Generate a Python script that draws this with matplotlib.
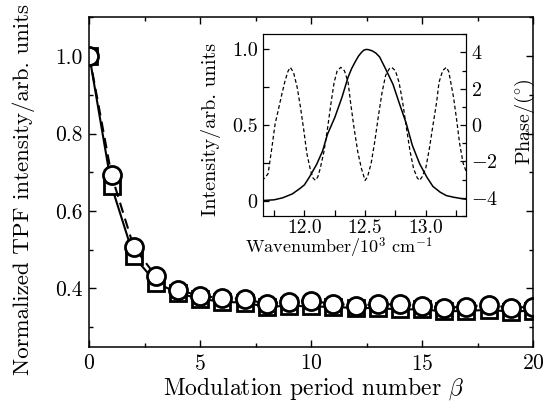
import numpy as np
import matplotlib
matplotlib.use('Agg')
import matplotlib.pyplot as plt
from matplotlib.ticker import MultipleLocator

plt.rcParams['font.family'] = 'serif'
plt.rcParams['font.serif'] = ['cmr10', 'DejaVu Serif']
plt.rcParams['mathtext.fontset'] = 'cm'
plt.rcParams['axes.formatter.use_mathtext'] = True
plt.rcParams['axes.unicode_minus'] = True

# main panel: TPF intensity vs modulation period number
beta = np.arange(0, 21)
tpf_square = [1.0, 0.664, 0.483, 0.415, 0.388, 0.373, 0.366, 0.363, 0.353, 0.355, 0.354,
              0.352, 0.350, 0.349, 0.346, 0.346, 0.341, 0.342, 0.345, 0.340, 0.343]
tpf_circle = [1.0, 0.692, 0.507, 0.432, 0.397, 0.380, 0.376, 0.372, 0.361, 0.366, 0.367,
              0.361, 0.356, 0.359, 0.359, 0.356, 0.350, 0.353, 0.358, 0.350, 0.353]

# inset: spectrum intensity (solid) and phase (dashed)
wn_int = [11.653, 11.75, 11.82, 11.90, 11.96, 12.0, 12.04, 12.10, 12.15, 12.19, 12.25,
          12.31, 12.36, 12.39, 12.42, 12.445, 12.47, 12.49, 12.51, 12.53, 12.56, 12.59,
          12.62, 12.67, 12.73, 12.78, 12.84, 12.89, 12.95, 13.01, 13.06, 13.12, 13.17,
          13.23, 13.31, 13.34]
intensity = [0.002, 0.007, 0.02, 0.046, 0.08, 0.106, 0.156, 0.24, 0.33, 0.44, 0.55,
             0.685, 0.817, 0.875, 0.92, 0.955, 0.98, 0.995, 1.0, 0.998, 0.99, 0.975,
             0.95, 0.87, 0.77, 0.65, 0.51, 0.366, 0.245, 0.156, 0.095, 0.057, 0.035,
             0.024, 0.013, 0.01]

wn_ph = [11.648, 11.675, 11.70, 11.73, 11.758, 11.786, 11.814, 11.84, 11.864, 11.883,
         11.91, 11.94, 11.967, 11.995, 12.02, 12.05, 12.07, 12.09, 12.11, 12.13, 12.16,
         12.19, 12.22, 12.245, 12.27, 12.30, 12.33, 12.36, 12.38, 12.41, 12.44, 12.47,
         12.50, 12.52, 12.55, 12.58, 12.61, 12.64, 12.67, 12.70, 12.72, 12.75, 12.78,
         12.81, 12.84, 12.87, 12.90, 12.93, 12.95, 12.97, 13.00, 13.03, 13.06, 13.09,
         13.11, 13.14, 13.17, 13.19, 13.23, 13.256, 13.28, 13.31, 13.34]
phase = [-3.04, -2.89, -2.67, -1.30, 0.07, 0.89, 1.72, 2.44, 2.96, 3.18,
         2.90, 2.08, 0.99, -0.30, -1.57, -2.49, -2.90, -3.04, -2.85, -2.39, -1.48,
         -0.20, 1.26, 2.36, 2.99, 3.18, 2.99, 2.36, 1.26, -0.20, -1.48, -2.39,
         -3.04, -2.85, -2.10, -0.90, 0.50, 1.80, 2.75, 3.10, 3.18, 2.99, 2.36,
         1.26, -0.10, -1.40, -2.39, -2.90, -3.04, -2.85, -2.39, -1.30, 0.00, 1.26,
         2.36, 3.00, 3.18, 2.95, 1.53, 0.25, -1.02, -2.12, -2.67]

fig = plt.figure(figsize=(5.45, 4.03), dpi=100)
ax = fig.add_axes([0.164, 0.140, 0.814, 0.817])

ax.plot(beta, tpf_square, '-', color='black', lw=1.5, marker='s', ms=11.5,
        mfc='white', mec='black', mew=2.0)
ax.plot(beta, tpf_circle, '--', color='black', lw=1.5, dashes=(5, 3), marker='o', ms=13,
        mfc='white', mec='black', mew=2.0)

ax.set_xlim(0, 20)
ax.set_ylim(0.25, 1.1)
ax.xaxis.set_major_locator(MultipleLocator(5))
ax.xaxis.set_minor_locator(MultipleLocator(2.5))
ax.yaxis.set_major_locator(MultipleLocator(0.2))
ax.yaxis.set_minor_locator(MultipleLocator(0.1))
ax.yaxis.set_major_formatter(plt.FormatStrFormatter('%.1f'))
ax.tick_params(which='both', direction='in', top=True, right=True, labelsize=15.5, pad=5)
ax.tick_params(which='major', length=5, width=1)
ax.tick_params(which='minor', length=3, width=1)
for s in ax.spines.values():
    s.set_linewidth(1.1)
ax.set_xlabel(r'Modulation period number $\beta$', fontsize=17)
ax.set_ylabel('Normalized TPF intensity/arb. units', fontsize=16.5)
ax.xaxis.set_label_coords(0.505, -0.086)
ax.yaxis.set_label_coords(-0.123, 0.476)

# inset
ins = fig.add_axes([0.483, 0.464, 0.3715, 0.451])
ins.plot(wn_int, intensity, '-', color='black', lw=1.1)
ins.set_xlim(11.66, 13.33)
ins.set_ylim(-0.1, 1.1)
ins.xaxis.set_major_locator(MultipleLocator(0.5))
ins.xaxis.set_minor_locator(MultipleLocator(0.25))
ins.yaxis.set_major_locator(MultipleLocator(0.5))
ins.yaxis.set_minor_locator(MultipleLocator(0.25))
ins.xaxis.set_major_formatter(plt.FormatStrFormatter('%.1f'))
ins.yaxis.set_major_formatter(plt.FuncFormatter(lambda v, p: '0' if abs(v) < 1e-9 else '%.1f' % v))
ins.tick_params(which='both', direction='in', labelsize=14.5, pad=4)
ins.tick_params(axis='x', which='both', pad=2, labelsize=14)
ins.tick_params(which='major', length=4, width=0.9)
ins.tick_params(which='minor', length=4, width=0.9)
ins.set_xlabel(r'Wavenumber/$10^3$ cm$^{-1}$', fontsize=13)
ins.set_ylabel('Intensity/arb. units', fontsize=14.5)
ins.xaxis.set_label_coords(0.374, -0.105)
ins.yaxis.set_label_coords(-0.209, 0.479)

ins2 = ins.twinx()
ins2.plot(wn_ph, phase, '--', color='black', lw=0.9, dashes=(3, 2))
ins2.set_ylim(-5, 5)
ins2.yaxis.set_major_locator(MultipleLocator(2))
ins2.yaxis.set_minor_locator(MultipleLocator(1))
ins2.tick_params(which='both', direction='in', labelsize=14.5, pad=4)
ins2.tick_params(which='major', length=4, width=0.9)
ins2.tick_params(which='minor', length=3, width=0.9)
ins2.set_ylabel(r'Phase/$(^{\circ})$', fontsize=14.5)
ins2.yaxis.set_label_coords(1.235, 0.52)

fig.savefig('out.png', dpi=100)
